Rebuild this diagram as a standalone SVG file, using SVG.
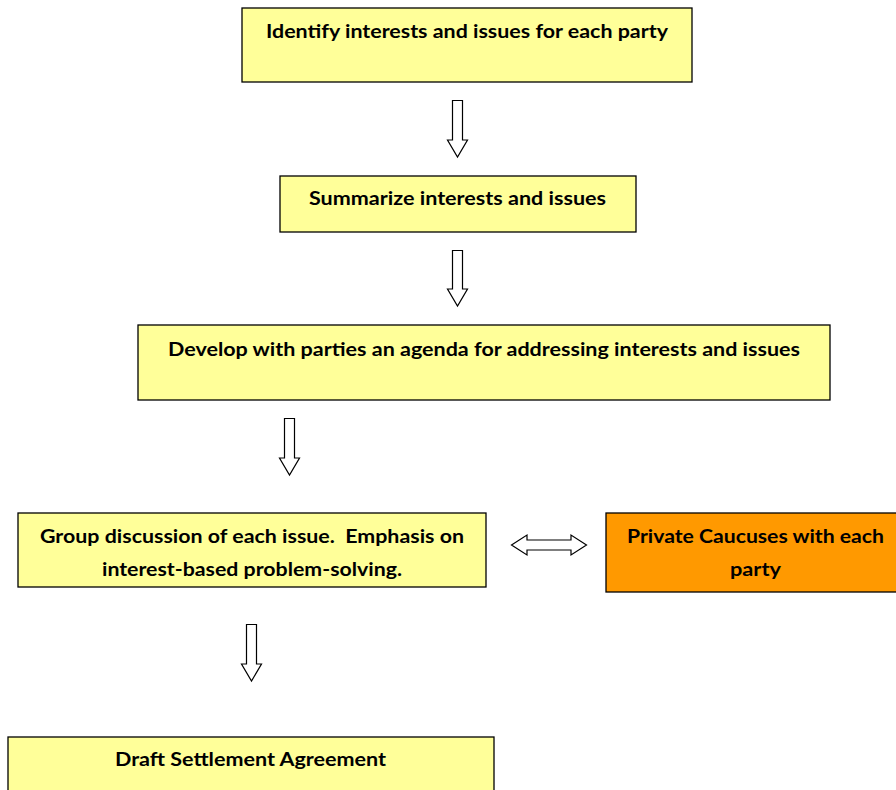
<svg xmlns="http://www.w3.org/2000/svg" width="896" height="790" viewBox="0 0 896 790">
<style>
.box{fill:#FFFF99;stroke:#000;stroke-width:1.3}
.org{fill:#FF9900;stroke:#000;stroke-width:1.3}
.t{font-family:Lato,"Liberation Sans",sans-serif;font-weight:bold;font-size:18px;fill:#000;text-anchor:middle}
.arr{fill:#fff;stroke:#000;stroke-width:1.2}
</style>
<rect width="896" height="790" fill="#fff"/>
<g id="n1"><rect class="box" x="242" y="8" width="450" height="74"/><text class="t" x="467" y="38" textLength="402" lengthAdjust="spacingAndGlyphs">Identify interests and issues for each party</text></g>
<g id="n2"><rect class="box" x="280" y="176" width="356" height="56"/><text class="t" x="457.5" y="205" textLength="297" lengthAdjust="spacingAndGlyphs">Summarize interests and issues</text></g>
<g id="n3"><rect class="box" x="138" y="325" width="692" height="75"/><text class="t" x="484" y="356" textLength="632" lengthAdjust="spacingAndGlyphs">Develop with parties an agenda for addressing interests and issues</text></g>
<g id="n4"><rect class="box" x="18" y="513" width="468" height="74"/><text class="t" x="252" y="543" textLength="424" lengthAdjust="spacingAndGlyphs" xml:space="preserve">Group discussion of each issue.  Emphasis on</text><text class="t" x="252" y="576" textLength="300" lengthAdjust="spacingAndGlyphs">interest-based problem-solving.</text></g>
<g id="n5"><rect class="org" x="606" y="513" width="296" height="79"/><text class="t" x="755.5" y="543" textLength="257" lengthAdjust="spacingAndGlyphs">Private Caucuses with each</text><text class="t" x="755.5" y="576" textLength="51" lengthAdjust="spacingAndGlyphs">party</text></g>
<g id="n6"><rect class="box" x="8" y="737" width="486" height="60"/><text class="t" x="250.5" y="766" textLength="271" lengthAdjust="spacingAndGlyphs">Draft Settlement Agreement</text></g>
<g id="connectors">
<path class="arr" d="M452.5,100.5 H462.5 V140 H467.5 L457.5,157 L447.5,140 H452.5 Z"/>
<path class="arr" d="M452.5,250.5 H462.5 V289 H467.5 L457.5,306 L447.5,289 H452.5 Z"/>
<path class="arr" d="M284.5,418.5 H294.5 V458 H299.5 L289.5,475 L279.5,458 H284.5 Z"/>
<path class="arr" d="M246.5,624.5 H256.5 V664 H261.5 L251.5,681 L241.5,664 H246.5 Z"/>
<path class="arr" d="M511.5,545 L527,535 V540 H571 V535 L586.5,545 L571,555 V550 H527 V555 Z"/>
</g>
</svg>
